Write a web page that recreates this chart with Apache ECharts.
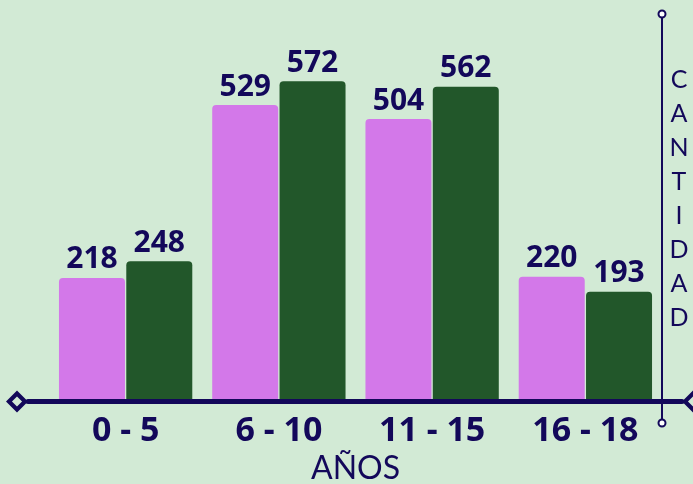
<!DOCTYPE html>
<html>
<head>
<meta charset="utf-8">
<script src="https://cdn.jsdelivr.net/npm/echarts@6/dist/echarts.min.js"></script>
<style>
html,body{margin:0;padding:0;background:#d2ead5;}
#chart{width:693px;height:484px;}
</style>
</head>
<body>
<div id="chart"></div>
<script>
const categories = ['0 - 5', '6 - 10', '11 - 15', '16 - 18'];
const seriesA = [218, 529, 504, 220];
const seriesB = [248, 572, 562, 193];
const xAxisName = 'AÑOS';
const yAxisName = 'CANTIDAD';

const navy = '#13085a';
const ring = 'path://M0,-10L10,0L0,10L-10,0ZM0,-4.6L-4.6,0L0,4.6L4.6,0Z';

const chart = echarts.init(document.getElementById('chart'), null, {renderer: 'canvas'});
const labelStyle = {
  show: true, position: 'top', distance: 3,
  color: navy, fontFamily: 'Noto Sans', fontWeight: 'bold', fontSize: 30
};
const noBounds = {outerBoundsMode: 'none', containLabel: false};
chart.setOption({
  backgroundColor: '#d2ead5',
  animation: false,
  grid: [
    Object.assign({left: 49, right: 31, top: 14, bottom: 85}, noBounds),
    Object.assign({left: 28, right: 11, top: 14, bottom: 82.5}, noBounds),
    Object.assign({left: 49, right: 31, top: 14, bottom: 61}, noBounds),
    Object.assign({left: 49, right: 31, top: 0, bottom: 87}, noBounds)
  ],
  xAxis: [
    {
      gridIndex: 0, type: 'category', data: categories,
      axisLine: {show: false}, axisTick: {show: false},
      axisLabel: {color: navy, fontFamily: 'Noto Sans', fontWeight: 'bold', fontSize: 34, margin: 15},
      name: xAxisName, nameLocation: 'middle', nameGap: 51,
      nameTextStyle: {color: navy, fontFamily: 'Lato', fontWeight: 'normal', fontSize: 32}
    },
    {
      gridIndex: 1, type: 'value', min: 0, max: 1, position: 'bottom',
      axisLine: {show: true, onZero: false, lineStyle: {color: navy, width: 5},
        symbol: [ring, ring], symbolSize: [22, 22], symbolOffset: [-11, 11]},
      axisTick: {show: false}, axisLabel: {show: false}, splitLine: {show: false}
    },
    {gridIndex: 2, type: 'value', min: 0, max: 1, show: false},
    {gridIndex: 3, type: 'value', min: 0, max: 1, show: false}
  ],
  yAxis: [
    {
      gridIndex: 0, type: 'value', min: 0, max: 693, show: false
    },
    {gridIndex: 1, type: 'value', min: 0, max: 1, show: false},
    {
      gridIndex: 2, type: 'value', min: 0, max: 1, position: 'right',
      axisLine: {show: true, onZero: false, lineStyle: {color: navy, width: 2},
        symbol: ['emptyCircle', 'emptyCircle'], symbolSize: [7, 7]},
      axisTick: {show: false}, axisLabel: {show: false}, splitLine: {show: false}
    },
    {
      gridIndex: 3, type: 'value', min: 0, max: 1, position: 'right',
      axisLine: {show: false, onZero: false}, axisTick: {show: false}, axisLabel: {show: false}, splitLine: {show: false},
      name: yAxisName.split('').join('\n'), nameLocation: 'middle', nameRotate: 0, nameGap: 17,
      nameTextStyle: {color: navy, fontFamily: 'Lato', fontWeight: 'normal', fontSize: 25, lineHeight: 34,
        align: 'center', verticalAlign: 'middle'}
    }
  ],
  series: [
    {
      type: 'bar', xAxisIndex: 0, yAxisIndex: 0, data: seriesA,
      barGap: '2%', barCategoryGap: '13%',
      itemStyle: {color: '#d378e9', borderRadius: [4, 4, 0, 0]},
      label: labelStyle
    },
    {
      type: 'bar', xAxisIndex: 0, yAxisIndex: 0, data: seriesB,
      barGap: '2%', barCategoryGap: '13%',
      itemStyle: {color: '#22572a', borderRadius: [4, 4, 0, 0]},
      label: labelStyle
    }
  ]
});
</script>
</body>
</html>
